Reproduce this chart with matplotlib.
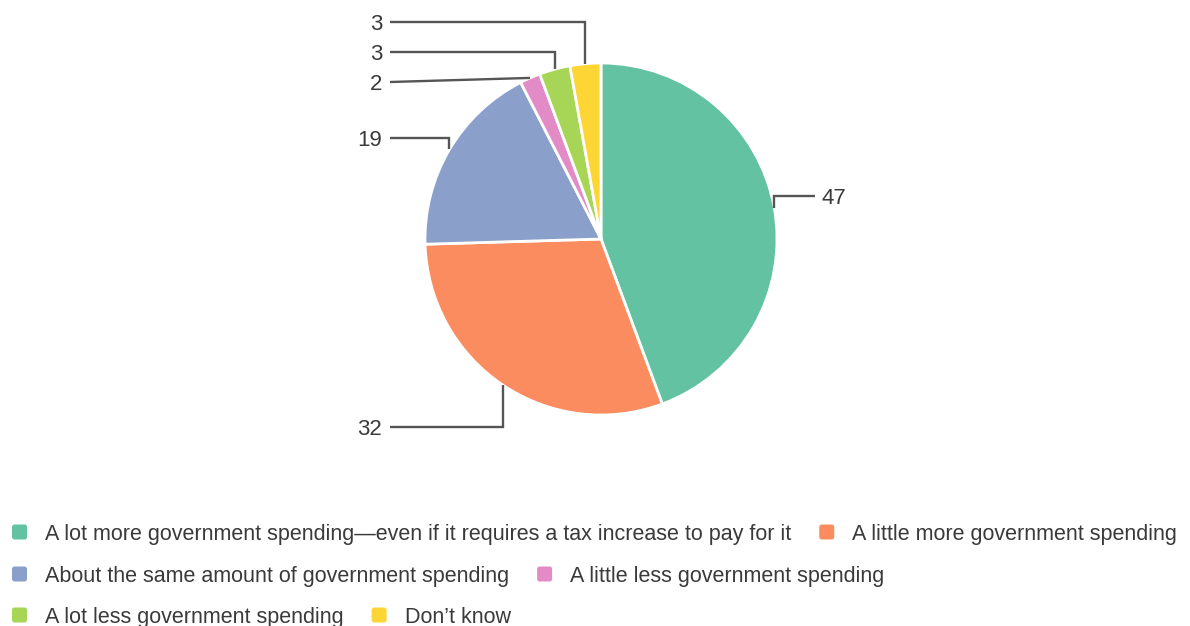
import matplotlib
matplotlib.use("Agg")
import matplotlib.pyplot as plt
from matplotlib.patches import FancyBboxPatch
import numpy as np

categories = [
    "A lot more government spending\u2014even if it requires a tax increase to pay for it",
    "A little more government spending",
    "About the same amount of government spending",
    "A little less government spending",
    "A lot less government spending",
    "Don\u2019t know",
]
values = [47, 32, 19, 2, 3, 3]
colors = ["#62c2a2", "#fb8c5f", "#8a9fca", "#e38bc6", "#a7d556", "#fdd636"]

# pixel-space layout
W, H = 1190, 626
CX, CY, R = 601, 239, 176
label_y = [196, 427, 138, 82, 52, 22]      # vertical position of each value label (px from top)
LEFT_LINE_END, RIGHT_LINE_END = 390, 815
TEXT_COLOR = "#3a3a3a"
LINE_COLOR = "#555555"

plt.rcParams["font.family"] = ["Liberation Sans", "DejaVu Sans"]

fig = plt.figure(figsize=(W / 100, H / 100), dpi=100)
ax = fig.add_axes([0, 0, 1, 1])


def fy(y):
    return H - y


wedges, _ = ax.pie(values, colors=colors, startangle=90, counterclock=False,
                   center=(CX, fy(CY)), radius=R, frame=True,
                   wedgeprops=dict(edgecolor="white", linewidth=2))
ax.set_xlim(0, W)
ax.set_ylim(0, H)
ax.set_aspect("equal")
ax.axis("off")

# leader lines and value labels
for w, v, ly in zip(wedges, values, label_y):
    mid = np.deg2rad((w.theta1 + w.theta2) / 2)
    ex = CX + R * np.cos(mid)
    ey = fy(CY) + R * np.sin(mid)
    right = np.cos(mid) > 0
    xend = RIGHT_LINE_END if right else LEFT_LINE_END
    if abs(ey - fy(ly)) < 8:
        xs, ys = [ex, xend], [ey, fy(ly)]
    else:
        xs, ys = [ex, ex, xend], [ey, fy(ly), fy(ly)]
    ax.plot(xs, ys, color=LINE_COLOR, lw=1.7,
            solid_capstyle="butt", solid_joinstyle="miter")
    if right:
        ax.text(xend + 7, fy(ly), str(v), ha="left", va="center_baseline",
                fontsize=16, color=TEXT_COLOR)
    else:
        ax.text(xend - 8, fy(ly), str(v), ha="right", va="center_baseline",
                fontsize=16, color=TEXT_COLOR)

# flowing legend, wrapped into rows
legend_rows = [[0, 1], [2, 3], [4, 5]]
row_y = [532, 574, 615]
SQ = 15
fig.canvas.draw()
renderer = fig.canvas.get_renderer()
inv = ax.transData.inverted()
for row, ry in zip(legend_rows, row_y):
    x = 12
    for i in row:
        ax.add_patch(FancyBboxPatch((x, fy(ry) - SQ / 2), SQ, SQ,
                                    boxstyle="round,pad=0,rounding_size=2.5",
                                    facecolor=colors[i], edgecolor="none"))
        t = ax.text(x + 33, fy(ry), categories[i], ha="left", va="center_baseline",
                    fontsize=15.5, color=TEXT_COLOR)
        bb = t.get_window_extent(renderer)
        x = inv.transform((bb.x1, bb.y0))[0] + 28

fig.savefig("out.png", dpi=100, facecolor="white")
